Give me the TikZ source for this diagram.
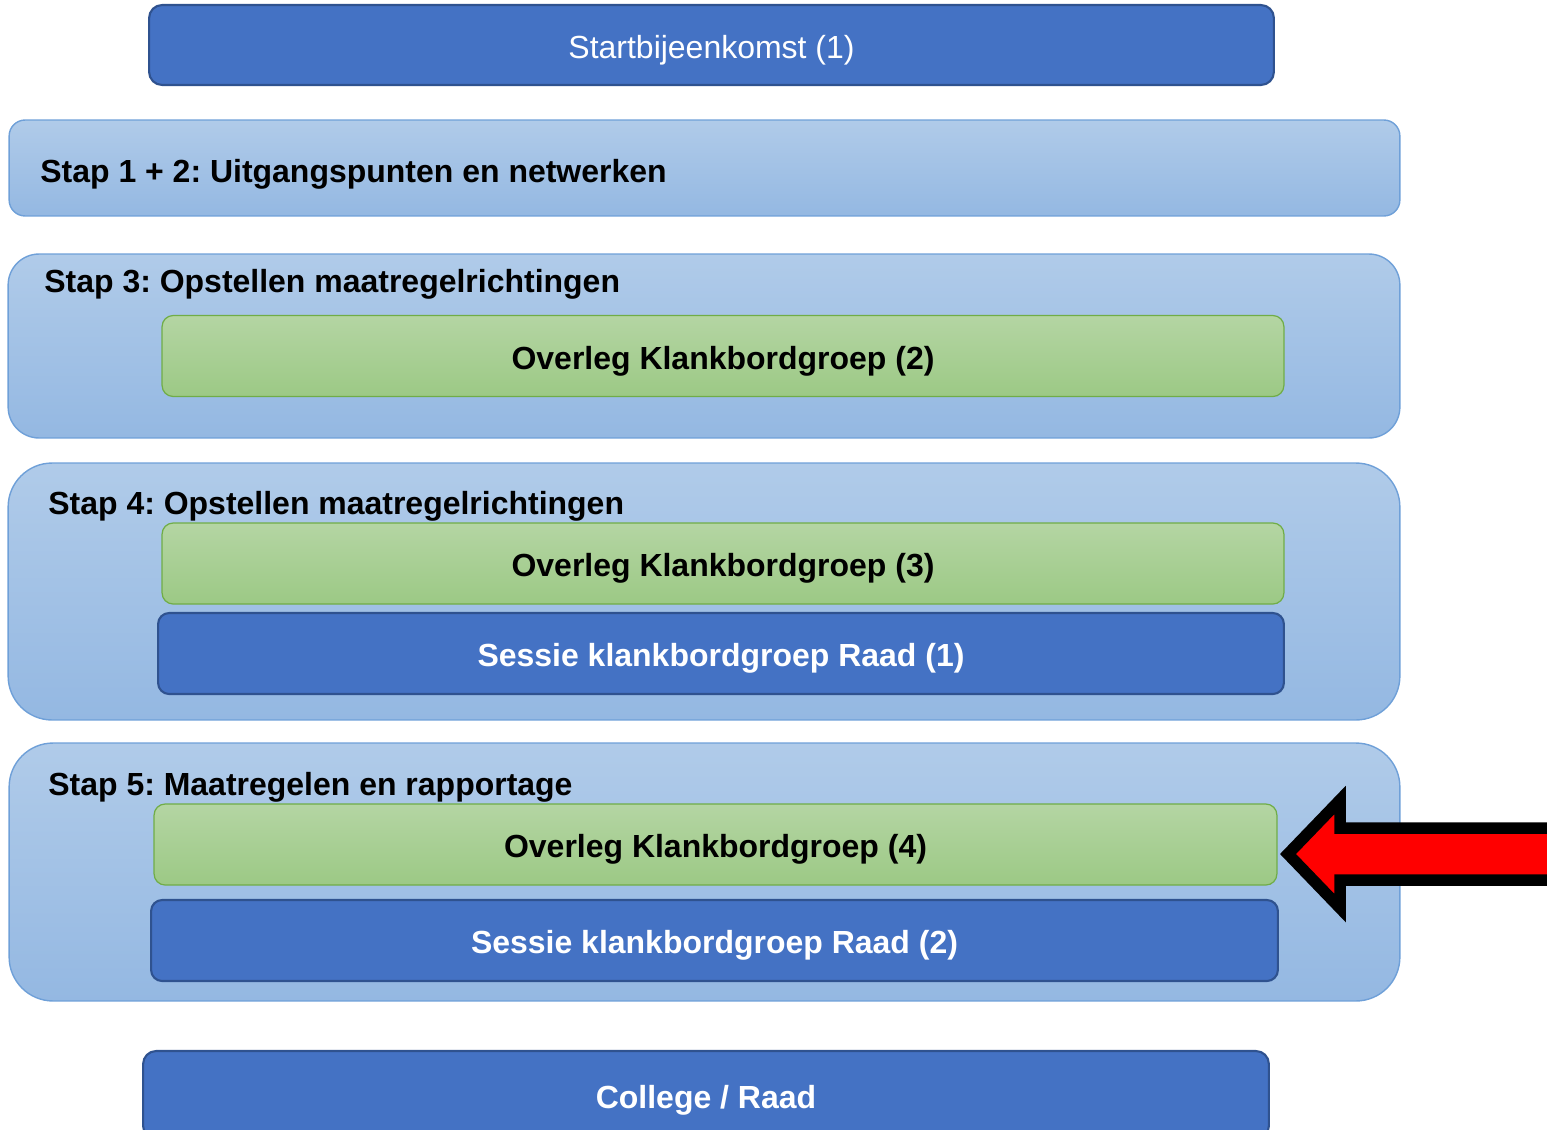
\documentclass[tikz,border=0pt]{standalone}
\usepackage{fontspec}
\setmainfont{Liberation Sans}
\usepackage{tikz}
\usetikzlibrary{positioning}
\usepackage{xcolor}
\definecolor{dfblue}{RGB}{68,114,196}
\definecolor{dfdarkblue}{RGB}{47,82,143}
\definecolor{dflighttop}{RGB}{176,203,233}
\definecolor{dflightbot}{RGB}{148,184,226}
\definecolor{dflightedge}{RGB}{111,160,216}
\definecolor{dfgreentop}{RGB}{180,213,163}
\definecolor{dfgreenbot}{RGB}{156,201,133}
\definecolor{dfgreenedge}{RGB}{112,173,71}
\definecolor{dfred}{RGB}{255,0,0}
\frenchspacing
\tikzstyle{boxtext} = [font=\fontsize{18.2}{22}\selectfont\bfseries]
\tikzstyle{stapbox} = [rectangle, draw=dflightedge, line width=0.8pt, top color=dflighttop, bottom color=dflightbot, minimum width=27.82cm, inner sep=0pt]
\tikzstyle{overlegnode} = [rectangle, rounded corners=0.22cm, draw=dfgreenedge, line width=0.7pt, top color=dfgreentop, bottom color=dfgreenbot, minimum height=1.62cm, text height=18.8pt, text depth=3.9pt, boxtext]
\tikzstyle{sessienode} = [rectangle, rounded corners=0.22cm, draw=dfdarkblue, line width=1.2pt, fill=dfblue, text=white, minimum height=1.62cm, text height=18.8pt, text depth=3.9pt, boxtext]
\tikzstyle{titletext} = [anchor=west, inner sep=0pt, boxtext]

\begin{document}
\begin{tikzpicture}[x=0.02cm, y=-0.02cm]
\useasboundingbox (0,0) rectangle (1547,1129);
\clip (0,0) rectangle (1547,1129);
% Start
\node[sessienode, rounded corners=0.26cm, minimum width=22.5cm, minimum height=1.6cm, font=\fontsize{18.2}{22}\selectfont] (start) at (711.5,45) {Startbijeenkomst (1)};

% Stappen
\node[stapbox, rounded corners=0.32cm, minimum height=1.92cm] (stap12) at (704.5,168) {};
\node[titletext] (title12) at (40,174) {Stap 1 + 2: Uitgangspunten en netwerken};

\node[stapbox, rounded corners=0.62cm, minimum width=27.84cm, minimum height=3.68cm] (stap3) at (704,346) {};
\node[titletext] (title3) at (44,284) {Stap 3: Opstellen maatregelrichtingen};
\node[overlegnode, minimum width=22.44cm] (overleg2) at (723,356) {Overleg Klankbordgroep (2)};

\node[stapbox, rounded corners=0.88cm, minimum width=27.84cm, minimum height=5.14cm] (stap4) at (704,591.5) {};
\node[titletext] (title4) at (48,506) {Stap 4: Opstellen maatregelrichtingen};
\node[overlegnode, minimum width=22.44cm] (overleg3) at (723,563.5) {Overleg Klankbordgroep (3)};
\node[sessienode, minimum width=22.52cm] (sessie1) at (721,653.5) {Sessie klankbordgroep Raad (1)};

\node[stapbox, rounded corners=0.88cm, minimum height=5.16cm] (stap5) at (704.5,872) {};
\node[titletext] (title5) at (48,787) {Stap 5: Maatregelen en rapportage};
\node[overlegnode, minimum width=22.46cm] (overleg4) at (715.5,844.5) {Overleg Klankbordgroep (4)};
\node[sessienode, minimum width=22.54cm] (sessie2) at (714.5,940.5) {Sessie klankbordgroep Raad (2)};

% College
\node[sessienode, rounded corners=0.26cm, minimum width=22.52cm, minimum height=1.76cm] (college) at (706,1095) {College / Raad};

% Pijl
\draw[line width=0.23cm, fill=dfred, draw=black, miter limit=10]
  (1288,854) -- (1340,800) -- (1340,828) -- (1620,828) -- (1620,880)
  -- (1340,880) -- (1340,908) -- cycle;
\end{tikzpicture}
\end{document}
